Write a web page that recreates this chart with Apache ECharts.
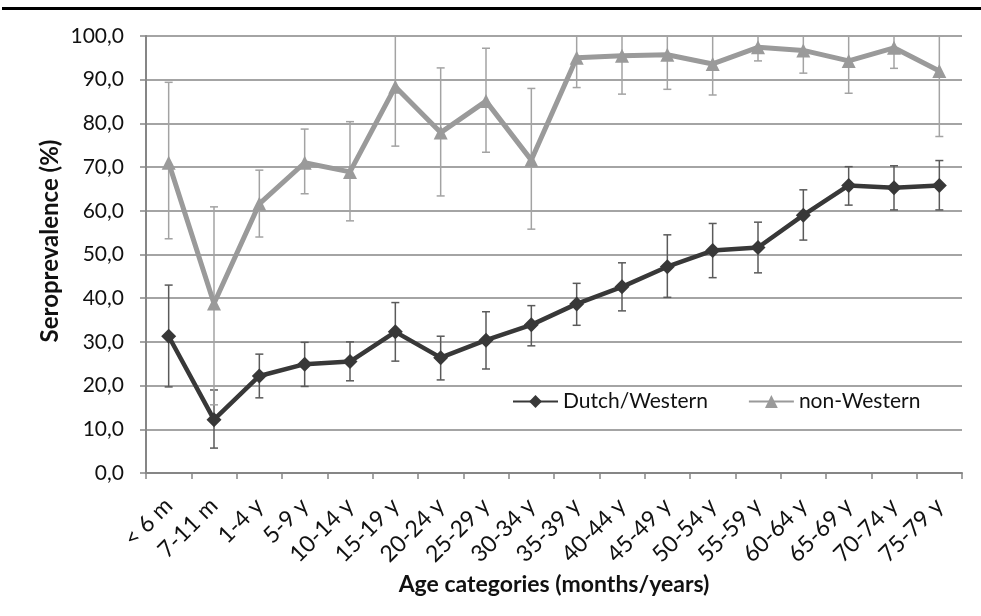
<!DOCTYPE html>
<html>
<head>
<meta charset="utf-8">
<script src="https://cdn.jsdelivr.net/npm/echarts@6/dist/echarts.min.js"></script>
<style>
  html, body { margin: 0; padding: 0; background: #fff; }
  #chart { width: 981px; height: 616px; }
</style>
</head>
<body>
<div id="chart"></div>
<script>
// ---- data ----
const categories = ['< 6 m', '7-11 m', '1-4 y', '5-9 y', '10-14 y', '15-19 y', '20-24 y', '25-29 y', '30-34 y',
  '35-39 y', '40-44 y', '45-49 y', '50-54 y', '55-59 y', '60-64 y', '65-69 y', '70-74 y', '75-79 y'];

const dutchValues = [31.3, 12.2, 22.2, 24.9, 25.5, 32.3, 26.4, 30.4, 33.9, 38.7, 42.6, 47.2, 50.9, 51.6, 59.0, 65.8, 65.3, 65.8];
const dutchLow    = [19.7, 5.7, 17.2, 19.8, 21.1, 25.6, 21.3, 23.8, 29.1, 33.8, 37.1, 40.2, 44.7, 45.8, 53.3, 61.3, 60.2, 60.2];
const dutchHigh   = [43.0, 19.0, 27.2, 29.9, 30.0, 39.0, 31.3, 36.9, 38.3, 43.4, 48.1, 54.5, 57.1, 57.4, 64.8, 70.1, 70.3, 71.5];

const nonWesternValues = [71.0, 38.8, 61.6, 71.0, 68.9, 88.4, 77.9, 85.1, 71.6, 95.0, 95.5, 95.7, 93.6, 97.4, 96.7, 94.3, 97.3, 92.0];
const nonWesternLow    = [53.6, 15.6, 54.0, 63.9, 57.7, 74.8, 63.4, 73.4, 55.8, 88.2, 86.7, 87.8, 86.5, 94.3, 91.5, 86.9, 92.6, 77.0];
const nonWesternHigh   = [89.4, 60.9, 69.3, 78.7, 80.4, 100, 92.7, 97.2, 88.0, 100, 100, 100, 100, 100, 100, 100, 100, 100];

const yTicks = { min: 0, max: 100, interval: 10 };
const seriesNames = ['Dutch/Western', 'non-Western'];

// ---- styles ----
const FONT = 'Lato';
const darkColor = '#383838';
const grayColor = '#9a9a9a';

function errData(low, high) {
  return low.map((l, i) => [i, l, high[i]]);
}

function errRender(color) {
  return function (params, api) {
    const i = api.value(0);
    const pLo = api.coord([i, api.value(1)]);
    const pHi = api.coord([i, api.value(2)]);
    const cw = 4;
    const st = { stroke: color, lineWidth: 1.5 };
    return {
      type: 'group',
      children: [
        { type: 'line', shape: { x1: pLo[0], y1: pLo[1], x2: pHi[0], y2: pHi[1] }, style: st },
        { type: 'line', shape: { x1: pLo[0] - cw, y1: pLo[1], x2: pLo[0] + cw, y2: pLo[1] }, style: st },
        { type: 'line', shape: { x1: pHi[0] - cw, y1: pHi[1], x2: pHi[0] + cw, y2: pHi[1] }, style: st }
      ]
    };
  };
}

const chart = echarts.init(document.getElementById('chart'), null, { renderer: 'canvas' });
chart.setOption({
  animation: false,
  backgroundColor: '#fff',
  textStyle: { fontFamily: FONT },
  grid: { left: 146, right: 19, top: 36, bottom: 143, containLabel: false },
  legend: {
    data: seriesNames,
    left: 507,
    top: 386,
    itemWidth: 45,
    itemHeight: 16,
    itemGap: 40,
    textStyle: { fontFamily: FONT, fontSize: 21, color: '#111' }
  },
  xAxis: {
    type: 'category',
    data: categories,
    boundaryGap: true,
    name: 'Age categories (months/years)',
    nameLocation: 'middle',
    nameGap: 93,
    nameTextStyle: { fontFamily: FONT, fontSize: 23, fontWeight: 'bold', color: '#111' },
    axisLine: { lineStyle: { color: '#868686', width: 2 } },
    axisTick: { show: true, alignWithLabel: false, length: 6, lineStyle: { color: '#868686', width: 1.5 } },
    axisLabel: { rotate: 45, interval: 0, margin: 29, fontFamily: FONT, fontSize: 23, color: '#111' },
    splitLine: { show: false }
  },
  yAxis: {
    type: 'value',
    min: yTicks.min,
    max: yTicks.max,
    interval: yTicks.interval,
    axisLine: { show: true, lineStyle: { color: '#868686', width: 2 } },
    axisTick: { show: true, length: 6, lineStyle: { color: '#868686', width: 1.5 } },
    axisLabel: {
      margin: 22, fontFamily: FONT, fontSize: 21, color: '#111',
      formatter: v => v.toFixed(1).replace('.', ',')
    },
    splitLine: { show: true, lineStyle: { color: '#868686', width: 1.5 } }
  },
  graphic: [
    { type: 'rect', shape: { x: 2, y: 7, width: 981, height: 3 }, style: { fill: '#000' } },
    {
      type: 'text', x: 50, y: 241, rotation: Math.PI / 2,
      style: { text: 'Seroprevalence (%)', font: 'bold 24px ' + FONT, fill: '#111', textAlign: 'center', textVerticalAlign: 'middle' }
    }
  ],
  series: [
    {
      type: 'custom', name: 'errDutch', renderItem: errRender('#5a5a5a'),
      data: errData(dutchLow, dutchHigh), z: 3, silent: true, clip: true
    },
    {
      type: 'custom', name: 'errNon', renderItem: errRender('#a3a3a3'),
      data: errData(nonWesternLow, nonWesternHigh), z: 3, silent: true, clip: true
    },
    {
      name: seriesNames[0], type: 'line', data: dutchValues,
      symbol: 'diamond', symbolSize: 15,
      lineStyle: { color: darkColor, width: 4.5 },
      itemStyle: { color: darkColor },
      z: 4
    },
    {
      name: seriesNames[1], type: 'line', data: nonWesternValues,
      symbol: 'triangle', symbolSize: 14,
      lineStyle: { color: grayColor, width: 5 },
      itemStyle: { color: grayColor },
      z: 4
    }
  ]
});
</script>
</body>
</html>
